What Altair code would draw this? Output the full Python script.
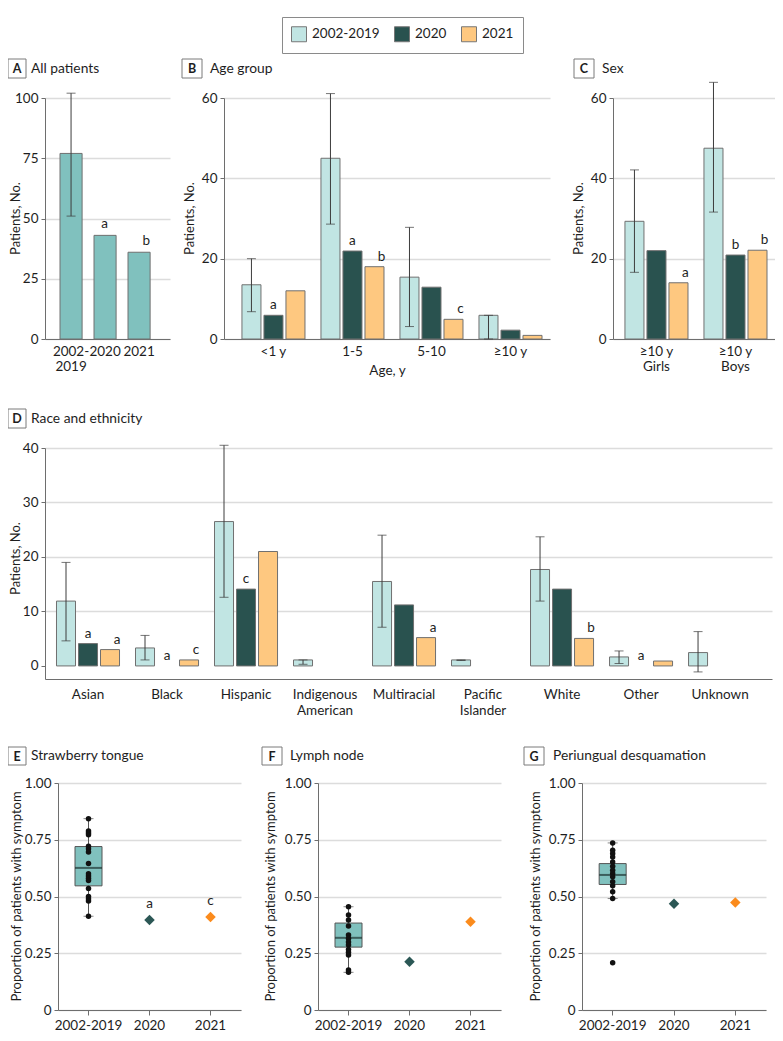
import altair as alt
import pandas as pd

# ---------------- data ----------------
years = ["2002-2019", "2020", "2021"]

# A: all patients
a_periods = ["2002-|2019", "2020", "2021"]
a_values = [77, 43, 36]
a_err_low = [51]
a_err_high = [102]
a_letters = ["", "a", "b"]

# B: age group
b_groups = ["<1 y", "1-5", "5-10", "≥10 y"]
b_2002_2019 = [13.5, 45.0, 15.4, 5.9]
b_low = [6.8, 28.6, 3.1, 0.0]
b_high = [20.0, 61.1, 27.8, 5.9]
b_2020 = [5.9, 21.9, 12.9, 2.2]
b_2021 = [12.0, 18.0, 4.9, 0.9]
b_letters_2020 = ["a", "a", "", ""]
b_letters_2021 = ["", "b", "c", ""]

# C: sex
c_groups = ["≥10 y|Girls", "≥10 y|Boys"]
c_2002_2019 = [29.3, 47.5]
c_low = [16.6, 31.6]
c_high = [42.1, 63.9]
c_2020 = [22.0, 20.9]
c_2021 = [14.0, 22.1]
c_letters_2020 = ["", "b"]
c_letters_2021 = ["a", "b"]

# D: race and ethnicity
d_groups = ["Asian", "Black", "Hispanic", "Indigenous|American", "Multiracial",
            "Pacific|Islander", "White", "Other", "Unknown"]
d_2002_2019 = [11.9, 3.3, 26.5, 1.1, 15.5, 1.1, 17.7, 1.65, 2.45]
d_low = [4.6, 1.1, 12.6, 0.3, 7.1, 1.0, 11.9, 0.45, -1.1]
d_high = [19.0, 5.6, 40.5, 1.1, 24.0, 1.1, 23.7, 2.75, 6.3]
d_2020 = [4.1, None, 14.1, None, 11.2, None, 14.1, None, None]
d_2021 = [3.0, 1.1, 21.0, None, 5.2, None, 5.05, 0.9, None]
d_letters_2020 = ["a", "a", "c", "", "", "", "", "a", ""]
d_letters_2021 = ["a", "c", "", "", "a", "", "b", "", ""]

# E: strawberry tongue
e_points = [0.843, 0.789, 0.780, 0.772, 0.721, 0.710, 0.696, 0.645, 0.600, 0.590,
            0.580, 0.570, 0.535, 0.500, 0.490, 0.480, 0.413]
e_box = {"q1": 0.547, "med": 0.626, "q3": 0.720, "lo": 0.413, "hi": 0.843}
e_2020, e_2021 = 0.396, 0.410
e_letters = ["a", "c"]

# F: lymph node
f_points = [0.455, 0.419, 0.396, 0.370, 0.330, 0.315, 0.300, 0.286, 0.267, 0.254,
            0.242, 0.176, 0.166]
f_box = {"q1": 0.277, "med": 0.318, "q3": 0.383, "lo": 0.166, "hi": 0.455}
f_2020, f_2021 = 0.213, 0.389
f_letters = ["", ""]

# G: periungual desquamation
g_points = [0.736, 0.704, 0.689, 0.674, 0.652, 0.633, 0.616, 0.601, 0.587, 0.565,
            0.547, 0.521, 0.491, 0.208]
g_box = {"q1": 0.553, "med": 0.595, "q3": 0.645, "lo": 0.491, "hi": 0.736}
g_2020, g_2021 = 0.468, 0.474
g_letters = ["", ""]

# ---------------- style ----------------
FONT = "Lato"
LIGHT, DARK, ORANGE = "#c1e5e3", "#29524f", "#fec880"
TEAL = "#80c1be"
DIAM_DARK, DIAM_ORANGE = "#2b5755", "#fb8b1c"
GRID = "#dcdcdc"
AXIS = "#6e6e6e"
TXT = "#1e1e1e"
ERR = "#3c3c3c"
LBL = 13.5
W, H = 767, 1025

color_scale = alt.Scale(domain=years, range=[LIGHT, DARK, ORANGE])
legend = alt.Legend(orient="none", legendX=274, legendY=9, direction="horizontal",
                    title=None, symbolType="square", symbolSize=225,
                    symbolStrokeColor="#777777", symbolStrokeWidth=1,
                    strokeColor="#8a8a8a", padding=9, labelFontSize=13.5,
                    labelOffset=5, columnPadding=12, labelColor=TXT)


def y_axis(offset, values, title, title_x, title_y, label_expr=None, hide_zero_grid=False):
    kw = dict(orient="left", offset=offset, values=values, title=title,
              titleX=title_x, titleY=title_y, titleAngle=270, titleBaseline="bottom",
              titleAlign="center", grid=True, gridColor=GRID, gridWidth=1.5,
              tickSize=4, tickColor=AXIS, labelPadding=3, labelFlush=False,
              labelOverlap=False, domainColor=AXIS, labelFontSize=LBL,
              titleFontSize=13, titleFontWeight="normal")
    if label_expr:
        kw["labelExpr"] = label_expr
    if hide_zero_grid:
        kw["gridOpacity"] = {"condition": {"test": "datum.value === 0", "value": 0}, "value": 1}
    return alt.Axis(**kw)


def x_axis(offset, ticks=False, title=None, title_x=None, label_padding=5, line_height=15):
    kw = dict(orient="bottom", offset=offset, ticks=ticks, labelAngle=0,
              labelExpr="split(datum.label, '|')", labelPadding=label_padding,
              labelLineHeight=line_height, grid=False, domainColor=AXIS,
              labelFontSize=LBL, labelBaseline="top", labelOverlap=False)
    if ticks:
        kw["tickSize"] = 5
        kw["tickColor"] = AXIS
    if title:
        kw.update(title=title, titleX=title_x, titleY=24, titleBaseline="top",
                  titleFontSize=13.5, titleFontWeight="normal", titleAlign="center")
    else:
        kw["title"] = None
    return alt.Axis(**kw)


def panel_title(letter, bx, by, bw, bh, tx, title):
    dummy = pd.DataFrame({"k": [0]})
    box = alt.Chart(dummy).mark_rect(fill="white", stroke="#7a7a7a", strokeWidth=1).encode(
        x=alt.value(bx), x2=alt.value(bx + bw), y=alt.value(by), y2=alt.value(by + bh))
    let = alt.Chart(dummy).mark_text(fontWeight="bold", fontSize=12.5, align="center",
                                     baseline="middle", color=TXT).encode(
        x=alt.value(bx + bw / 2), y=alt.value(by + bh / 2 + 0.5), text=alt.value(letter))
    tit = alt.Chart(dummy).mark_text(fontSize=13.8, align="left", baseline="middle",
                                     color=TXT).encode(
        x=alt.value(tx), y=alt.value(by + bh / 2), text=alt.value(title))
    return [box, let, tit]


def bar_panel(groups, light, low, high, v2020, v2021, l2020, l2021,
              xs, ys, xaxis, yaxis):
    """xs, ys: dicts of scale parameters (each layer builds an identical scale)."""
    rows, labs = [], []
    for i, g in enumerate(groups):
        for yr, vals in zip(years, (light, v2020, v2021)):
            if vals[i] is not None:
                rows.append({"grp": g, "year": yr, "value": vals[i]})
        for yr, vals, lets in (("2020", v2020, l2020), ("2021", v2021, l2021)):
            if lets[i]:
                labs.append({"grp": g, "year": yr,
                             "value": vals[i] if vals[i] is not None else 0,
                             "letter": lets[i]})
    bars_df = pd.DataFrame(rows)
    err_df = pd.DataFrame({"grp": groups, "year": years[0], "lo": low, "hi": high})
    cap_df = pd.DataFrame({"grp": groups + groups, "year": years[0], "v": low + high})
    lab_df = pd.DataFrame(labs)

    def xo():
        return alt.XOffset("year:N", scale=alt.Scale(domain=years, paddingInner=0.136,
                                                     paddingOuter=0.363))

    bars = alt.Chart(bars_df).mark_bar(stroke="#707070", strokeWidth=1).encode(
        x=alt.X("grp:N", scale=alt.Scale(**xs), axis=xaxis),
        xOffset=xo(),
        y=alt.Y("value:Q", scale=alt.Scale(**ys), axis=yaxis),
        color=alt.Color("year:N", scale=color_scale, legend=legend))
    rule = alt.Chart(err_df).mark_rule(color=ERR, strokeWidth=1).encode(
        x=alt.X("grp:N", scale=alt.Scale(**xs), axis=None), xOffset=xo(),
        y=alt.Y("lo:Q", scale=alt.Scale(**ys), axis=None), y2="hi:Q")
    caps = alt.Chart(cap_df).mark_tick(color=ERR, thickness=1, size=9).encode(
        x=alt.X("grp:N", scale=alt.Scale(**xs), axis=None), xOffset=xo(),
        y=alt.Y("v:Q", scale=alt.Scale(**ys), axis=None))
    text = alt.Chart(lab_df).mark_text(dy=-10, fontSize=13.5, color=TXT).encode(
        x=alt.X("grp:N", scale=alt.Scale(**xs), axis=None), xOffset=xo(),
        y=alt.Y("value:Q", scale=alt.Scale(**ys), axis=None), text="letter:N")
    return [bars, rule, caps, text]


def box_panel(points, box, v2020, v2021, letters, xs, ys, xaxis, yaxis):
    cat0 = years[0]
    pts_df = pd.DataFrame({"period": cat0, "value": points})
    box_df = pd.DataFrame({"period": [cat0], "q1": [box["q1"]], "med": [box["med"]],
                           "q3": [box["q3"]], "lo": [box["lo"]], "hi": [box["hi"]]})
    cap_df = pd.DataFrame({"period": cat0, "v": [box["lo"], box["hi"]]})
    dia_df = pd.DataFrame({"period": ["2020", "2021"], "value": [v2020, v2021],
                           "letter": letters})

    def X():
        return alt.X("period:N", scale=alt.Scale(**xs), axis=None)

    def Y(f):
        return alt.Y(f, scale=alt.Scale(**ys), axis=None)

    whisk = alt.Chart(box_df).mark_rule(color="#555555", strokeWidth=1).encode(
        x=alt.X("period:N", scale=alt.Scale(**xs), axis=xaxis),
        y=alt.Y("lo:Q", scale=alt.Scale(**ys), axis=yaxis), y2="hi:Q")
    caps = alt.Chart(cap_df).mark_tick(color="#555555", thickness=1, size=10).encode(
        x=X(), y=Y("v:Q"))
    rect = alt.Chart(box_df).mark_bar(size=27, fill=TEAL, stroke="#555555",
                                      strokeWidth=1).encode(
        x=X(), y=Y("q1:Q"), y2="q3:Q")
    med = alt.Chart(box_df).mark_tick(color="#1f3533", thickness=2, size=27).encode(
        x=X(), y=Y("med:Q"))
    pts = alt.Chart(pts_df).mark_circle(size=30, color="#111111", opacity=1).encode(
        x=X(), y=Y("value:Q"))
    dia = alt.Chart(dia_df).mark_point(shape="diamond", filled=True, size=110,
                                       opacity=1).encode(
        x=X(), y=Y("value:Q"),
        fill=alt.Fill("period:N", scale=alt.Scale(domain=["2020", "2021"],
                                                  range=[DIAM_DARK, DIAM_ORANGE]),
                      legend=None))
    text = alt.Chart(dia_df).mark_text(dy=-16, fontSize=13.5, color=TXT).encode(
        x=X(), y=Y("value:Q"), text="letter:N")
    return [whisk, caps, rect, med, pts, dia, text]


# ---------------- panel A ----------------
a_df = pd.DataFrame({"period": a_periods, "value": a_values, "letter": a_letters})
a_err = pd.DataFrame({"period": [a_periods[0]], "lo": a_err_low, "hi": a_err_high})
a_cap = pd.DataFrame({"period": [a_periods[0]] * 2, "v": a_err_low + a_err_high})
a_xs = dict(domain=a_periods, range=[37, 162], paddingInner=0.35,
            paddingOuter=0.513, align=0.43)
a_ys = dict(domain=[0, 100], range=[331, 90], nice=False)
a_bars = alt.Chart(a_df).mark_bar(fill=TEAL, stroke="#707070", strokeWidth=1).encode(
    x=alt.X("period:N", scale=alt.Scale(**a_xs), axis=x_axis(331 - H)),
    y=alt.Y("value:Q", scale=alt.Scale(**a_ys),
            axis=y_axis(-37, [0, 25, 50, 75, 100], "Patients, No.", -23, 210)))
a_rule = alt.Chart(a_err).mark_rule(color=ERR, strokeWidth=1).encode(
    x=alt.X("period:N", scale=alt.Scale(**a_xs), axis=None),
    y=alt.Y("lo:Q", scale=alt.Scale(**a_ys), axis=None), y2="hi:Q")
a_caps = alt.Chart(a_cap).mark_tick(color=ERR, thickness=1, size=9).encode(
    x=alt.X("period:N", scale=alt.Scale(**a_xs), axis=None),
    y=alt.Y("v:Q", scale=alt.Scale(**a_ys), axis=None))
a_text = alt.Chart(a_df).mark_text(dy=-11, fontSize=13.5, color=TXT).encode(
    x=alt.X("period:N", scale=alt.Scale(**a_xs), axis=None),
    y=alt.Y("value:Q", scale=alt.Scale(**a_ys), axis=None), text="letter:N")
panel_a = [a_bars, a_rule, a_caps, a_text]

# ---------------- panel B ----------------
panel_b = bar_panel(
    b_groups, b_2002_2019, b_low, b_high, b_2020, b_2021, b_letters_2020, b_letters_2021,
    dict(domain=b_groups, range=[216, 542], paddingInner=0, paddingOuter=0.063, align=1),
    dict(domain=[0, 60], range=[331, 90], nice=False),
    x_axis(331 - H, title="Age, y", title_x=379),
    y_axis(-216, [0, 20, 40, 60], "Patients, No.", -28, 210))

# ---------------- panel C ----------------
panel_c = bar_panel(
    c_groups, c_2002_2019, c_low, c_high, c_2020, c_2021, c_letters_2020, c_letters_2021,
    dict(domain=c_groups, range=[605, 767], paddingInner=0, paddingOuter=0.025, align=1),
    dict(domain=[0, 60], range=[331, 90], nice=False),
    x_axis(331 - H),
    y_axis(-605, [0, 20, 40, 60], "Patients, No.", -28, 210))

# ---------------- panel D ----------------
panel_d = bar_panel(
    d_groups, d_2002_2019, d_low, d_high, d_2020, d_2021, d_letters_2020, d_letters_2021,
    dict(domain=d_groups, range=[37, 764], paddingInner=0, paddingOuter=0.101, align=0.22),
    dict(domain=[-2.4, 40], range=[671, 440], nice=False, zero=False),
    x_axis(671 - H, label_padding=8, line_height=16),
    y_axis(-37, [0, 10, 20, 30, 40], "Patients, No.", -23, 550, hide_zero_grid=True))

# ---------------- panels E, F, G ----------------
prop_expr = "datum.value == 0 ? '0' : format(datum.value, '.2f')"
prop_vals = [0, 0.25, 0.5, 0.75, 1.0]
ytitle = "Proportion of patients with symptom"
prop_ys = dict(domain=[0, 1], range=[1002, 775], nice=False)

panel_e = box_panel(e_points, e_box, e_2020, e_2021, e_letters,
                    dict(domain=years, range=[50, 233], paddingInner=0, paddingOuter=0),
                    prop_ys, x_axis(1002 - H, ticks=True, label_padding=3),
                    y_axis(-50, prop_vals, ytitle, -35, 888, label_expr=prop_expr))
panel_f = box_panel(f_points, f_box, f_2020, f_2021, f_letters,
                    dict(domain=years, range=[310, 493], paddingInner=0, paddingOuter=0),
                    prop_ys, x_axis(1002 - H, ticks=True, label_padding=3),
                    y_axis(-310, prop_vals, ytitle, -41, 888, label_expr=prop_expr))
panel_g = box_panel(g_points, g_box, g_2020, g_2021, g_letters,
                    dict(domain=years, range=[574, 758], paddingInner=0, paddingOuter=0),
                    prop_ys, x_axis(1002 - H, ticks=True, label_padding=3),
                    y_axis(-574, prop_vals, ytitle, -40, 888, label_expr=prop_expr))

# ---------------- panel titles ----------------
decor = []
decor += panel_title("A", 0, 51, 18, 19, 23, "All patients")
decor += panel_title("B", 174, 51, 20, 19, 202, "Age group")
decor += panel_title("C", 566, 51, 20, 19, 594, "Sex")
decor += panel_title("D", 0, 401, 18, 19, 23, "Race and ethnicity")
decor += panel_title("E", 0, 739, 18, 18, 23, "Strawberry tongue")
decor += panel_title("F", 254, 739, 20, 18, 282, "Lymph node")
decor += panel_title("G", 516, 739, 20, 18, 545, "Periungual desquamation")

layers = panel_a + panel_b + panel_c + panel_d + panel_e + panel_f + panel_g + decor

chart = alt.layer(*layers).resolve_scale(
    x="independent", y="independent", xOffset="independent"
).resolve_axis(x="independent", y="independent").properties(
    width=W, height=H, autosize=alt.AutoSizeParams(type="none"), padding=0
).configure(font=FONT).configure_view(stroke=None).configure_axis(
    labelFont=FONT, titleFont=FONT, labelColor=TXT, titleColor=TXT
).configure_legend(labelFont=FONT)

chart.save("out.html", embed_options={"renderer": "svg", "actions": False})
